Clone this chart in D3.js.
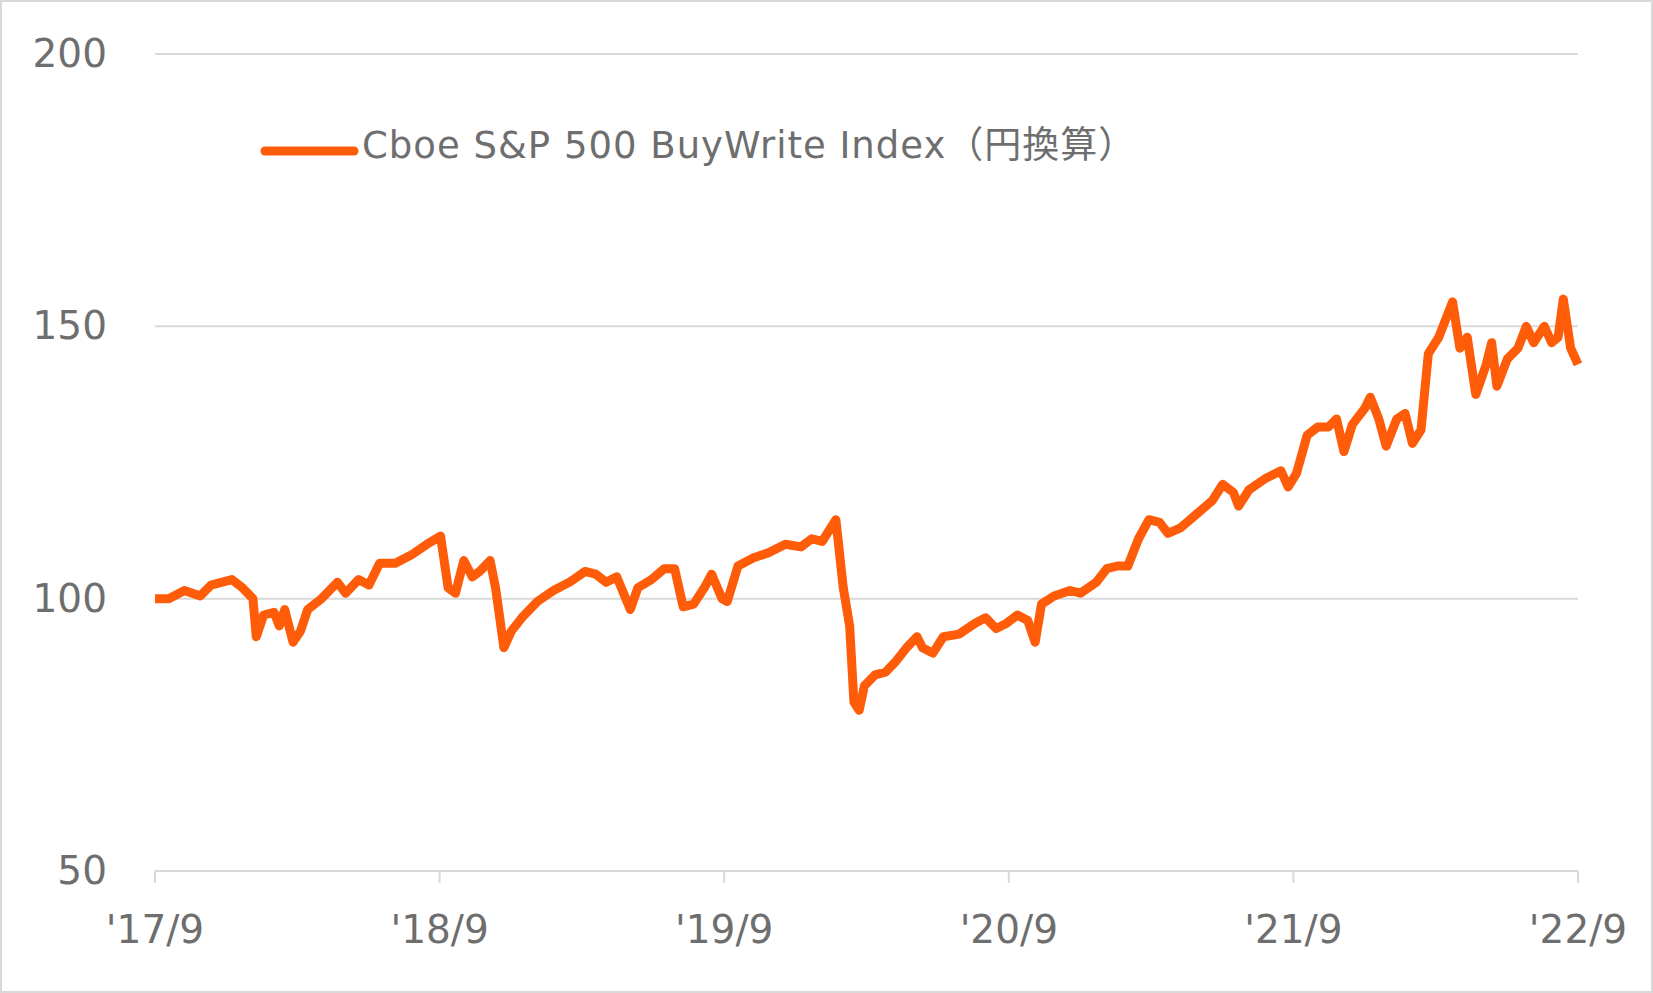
<!DOCTYPE html>
<html><head><meta charset="utf-8">
<script src="https://cdn.jsdelivr.net/npm/d3@7"></script>
<style>body{margin:0;background:#fff}svg{display:block}</style>
</head><body>
<svg id="c" width="1653" height="993"></svg>
<script>
// months since Sep 2017
const months = [0,0.58,1.24,1.91,2.36,3.24,3.69,4.13,4.27,4.58,5.02,5.24,5.47,5.82,6.13,6.44,7.02,7.69,8.04,8.58,9.02,9.47,10.13,10.8,11.47,12.04,12.36,12.67,13.02,13.38,13.69,14.13,14.36,14.71,15.02,15.47,16.13,16.8,17.47,18.13,18.58,19.02,19.47,20.04,20.36,20.93,21.47,21.91,22.27,22.71,23.16,23.47,23.91,24.13,24.58,25.24,25.91,26.58,27.24,27.69,28.13,28.71,29.02,29.29,29.47,29.69,29.91,30.36,30.8,31.24,31.69,32.13,32.36,32.8,33.24,33.91,34.58,35.02,35.47,35.91,36.36,36.8,37.11,37.38,37.91,38.58,39.02,39.69,40.13,40.58,41.02,41.47,41.91,42.36,42.71,43.24,43.91,44.58,45.02,45.47,45.69,46.13,46.8,47.47,47.78,48.13,48.58,49.02,49.47,49.82,50.13,50.49,51.02,51.24,51.6,51.91,52.36,52.71,53.02,53.38,53.69,54.13,54.71,55.02,55.33,55.69,56.13,56.36,56.58,57.02,57.47,57.82,58.13,58.58,58.89,59.16,59.38,59.69,60];
const values = [100,100,101.5,100.5,102.5,103.5,102,100,93,97,97.5,95,98,92,94,98,100,103,101,103.5,102.5,106.5,106.5,108,110,111.5,102,101,107,104,105,107,102,91,94,96.5,99.5,101.5,103,105,104.5,103,104,98,102,103.5,105.5,105.5,98.5,99,102,104.5,100,99.5,106,107.5,108.5,110,109.5,111,110.5,114.5,102,95,81,79.5,84,86,86.5,88.5,91,93,91,90,93,93.5,95.5,96.5,94.5,95.5,97,96,92,99,100.5,101.5,101,103,105.5,106,106,111,114.5,114,112,113,115.5,118,121,119.5,117,120,122,123.5,120.5,123,130,131.5,131.5,133,127,132,135,137,133,128,133,134,128.5,131,145,148,154.5,146,148,137.5,143,147,139,144,146,150,147,150,147,148,155,146,143];
const yTicks = [50,100,150,200];
const xTickMonths = [0,12,24,36,48,60];
const xTickLabels = ["'17/9","'18/9","'19/9","'20/9","'21/9","'22/9"];
const seriesName = "Cboe S&P 500 BuyWrite Index";
const seriesSuffix = "（円換算）";

const svg = d3.select("#c");
svg.append("rect").attr("x",1).attr("y",1).attr("width",1651).attr("height",991)
  .attr("fill","#fff").attr("stroke","#d9d9d9").attr("stroke-width",2);

const x = d3.scaleLinear().domain([0,60]).range([155,1578]);
const y = d3.scaleLinear().domain([50,200]).range([871,54]);
const font = "'DejaVu Sans', Verdana, sans-serif";
const grey = "#6e6e6e";

svg.append("g").selectAll("line").data(yTicks.slice(1)).join("line")
  .attr("x1",155).attr("x2",1578).attr("y1",d=>y(d)).attr("y2",d=>y(d))
  .attr("stroke","#d9d9d9").attr("stroke-width",2);

svg.append("line").attr("x1",155).attr("x2",1578).attr("y1",y(50)).attr("y2",y(50))
  .attr("stroke","#d9d9d9").attr("stroke-width",2);
svg.append("g").selectAll("line").data(xTickMonths).join("line")
  .attr("x1",d=>x(d)).attr("x2",d=>x(d)).attr("y1",y(50)).attr("y2",y(50)+12)
  .attr("stroke","#d9d9d9").attr("stroke-width",2);

svg.append("g").selectAll("text").data(yTicks).join("text")
  .attr("x",107).attr("y",d=>y(d)+13).attr("text-anchor","end")
  .attr("font-family",font).attr("font-size",39).attr("fill",grey).text(d=>d);

svg.append("g").selectAll("text").data(xTickMonths).join("text")
  .attr("x",d=>x(d)).attr("y",943).attr("text-anchor","middle")
  .attr("font-family",font).attr("font-size",39).attr("fill",grey)
  .text((d,i)=>xTickLabels[i]);

const line = d3.line().x((d,i)=>x(months[i])).y(d=>y(d));
svg.append("path").datum(values).attr("d",line).attr("fill","none")
  .attr("stroke","#ff5c0a").attr("stroke-width",9).attr("stroke-linejoin","round");

svg.append("line").attr("x1",265).attr("x2",354).attr("y1",151).attr("y2",151)
  .attr("stroke","#ff5c0a").attr("stroke-width",9).attr("stroke-linecap","round");
const leg = svg.append("text").attr("x",362).attr("y",158).attr("font-family",font)
  .attr("font-size",37).attr("fill",grey).attr("letter-spacing",1);
leg.append("tspan").text(seriesName);
leg.append("tspan").attr("font-family","'Noto Sans CJK JP', sans-serif").text(seriesSuffix);
</script>
</body></html>
